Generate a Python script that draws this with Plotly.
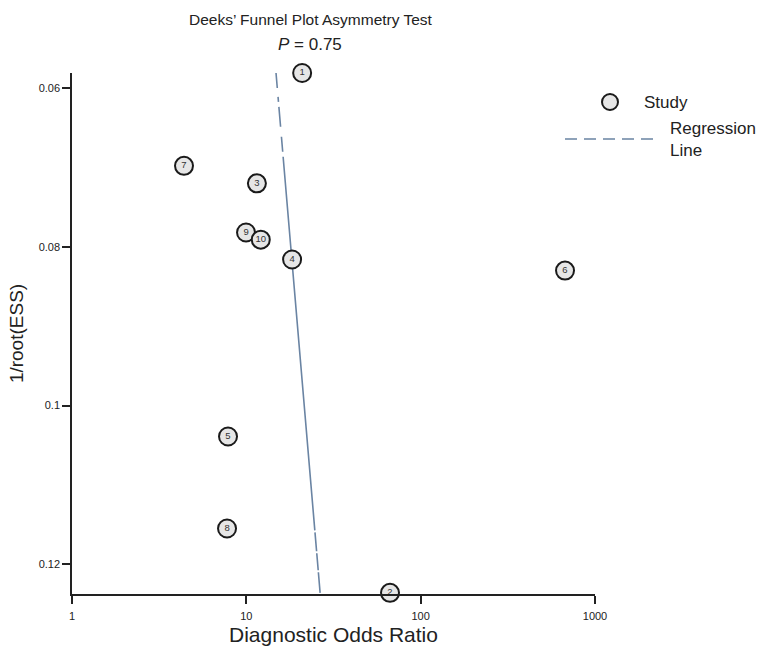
import plotly.graph_objects as go

# Data
study_ids = ["1", "2", "3", "4", "5", "6", "7", "8", "9", "10"]
dor = [20.9, 66.7, 11.5, 18.3, 7.85, 673, 4.39, 7.75, 9.96, 12.1]
inv_root_ess = [0.0581, 0.1236, 0.0720, 0.0816, 0.1039, 0.0830, 0.0698, 0.1155, 0.0782, 0.0791]

reg_x = [14.8, 26.5]
reg_y = [0.0581, 0.1236]

x_ticks = [1, 10, 100, 1000]
x_tick_labels = ["1", "10", "100", "1000"]
y_ticks = [0.06, 0.08, 0.1, 0.12]
y_tick_labels = ["0.06", "0.08", "0.1", "0.12"]

FONT = "Liberation Sans, Arial, sans-serif"
LINE_COLOR = "#6a84a3"

fig = go.Figure()
fig.add_trace(go.Scatter(
    x=reg_x, y=reg_y, mode="lines",
    line=dict(color=LINE_COLOR, width=1.6,
              dash="15px,9px,5px,5px,20px,10px,15px,5px,375px,2px,19px,2px,17px,2px,40px"),
    showlegend=False, hoverinfo="skip", cliponaxis=False,
))
fig.add_trace(go.Scatter(
    x=dor, y=inv_root_ess, mode="markers+text",
    text=study_ids, textposition="middle center",
    textfont=dict(family=FONT, size=9.5, color="#333"),
    marker=dict(size=18, color="#e6e6e6", line=dict(color="#1a1a1a", width=2)),
    showlegend=False, cliponaxis=False,
))

L, R, T, B = 72, 169, 73, 56
W, H = 764, 650
pw = W - L - R
ph = H - T - B

def px(x):
    return (x - L) / pw

def py(y):
    return 1 - (y - T) / ph

annotations = [
    dict(text="Deeks’ Funnel Plot Asymmetry Test", x=px(311), y=py(19),
         xref="paper", yref="paper", showarrow=False,
         font=dict(family=FONT, size=15.5, color="#222"), xanchor="center", yanchor="middle"),
    dict(text="<i>P</i> = 0.75", x=px(310), y=py(44),
         xref="paper", yref="paper", showarrow=False,
         font=dict(family=FONT, size=17, color="#222"), xanchor="center", yanchor="middle"),
    dict(text="Study", x=px(642), y=py(102), xref="paper", yref="paper", showarrow=False,
         font=dict(family=FONT, size=17, color="#222"), xanchor="left", yanchor="middle"),
    dict(text="Regression<br>Line", x=px(668), y=py(139), xref="paper", yref="paper", showarrow=False,
         align="left", font=dict(family=FONT, size=17, color="#222"), xanchor="left", yanchor="middle"),
]

shapes = [
    dict(type="circle", xref="paper", yref="paper",
         x0=px(602), x1=px(618), y0=py(110), y1=py(94),
         fillcolor="#e6e6e6", line=dict(color="#1a1a1a", width=2)),
    dict(type="line", xref="paper", yref="paper",
         x0=px(565), x1=px(655), y0=py(139), y1=py(139),
         line=dict(color=LINE_COLOR, width=1.6, dash="12px,7px")),
]

fig.update_layout(
    width=W, height=H,
    margin=dict(l=L, r=R, t=T, b=B, pad=0),
    paper_bgcolor="white", plot_bgcolor="white",
    showlegend=False,
    annotations=annotations, shapes=shapes,
    font=dict(family=FONT, color="#222"),
)
fig.update_xaxes(
    type="log", range=[0, 3], automargin=False,
    tickvals=x_ticks, ticktext=x_tick_labels,
    ticks="outside", ticklen=8, tickwidth=1.5, tickcolor="#222",
    tickfont=dict(family=FONT, size=11, color="#222"),
    ticklabelstandoff=3,
    showline=True, linecolor="#222", linewidth=1.5,
    showgrid=False, zeroline=False,
    title=dict(text="Diagnostic Odds Ratio", font=dict(family=FONT, size=21, color="#222"), standoff=6),
)
fig.update_yaxes(
    range=[0.12375, 0.0581], automargin=False,
    tickvals=y_ticks, ticktext=y_tick_labels,
    ticks="outside", ticklen=8, tickwidth=1.5, tickcolor="#222",
    tickfont=dict(family=FONT, size=11, color="#222"),
    showline=True, linecolor="#222", linewidth=1.5,
    showgrid=False, zeroline=False,
    title=dict(text="1/root(ESS)", font=dict(family=FONT, size=19, color="#222"), standoff=10),
)

fig.write_html("out.html")
